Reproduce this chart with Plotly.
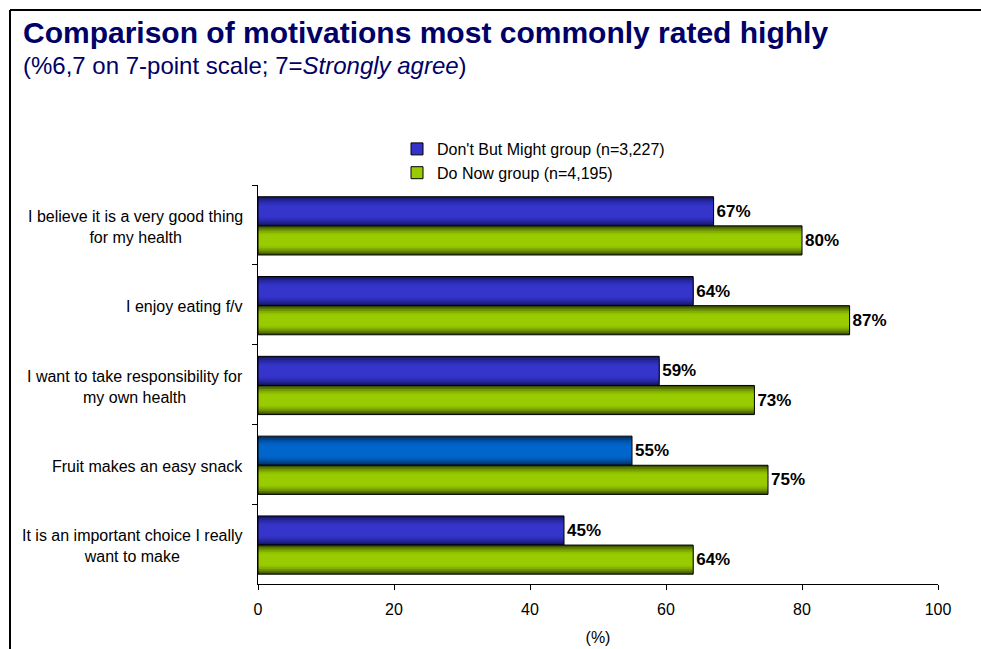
import plotly.graph_objects as go

# ---- data -------------------------------------------------------------
categories = [
    "I believe it is a very good thing<br>for my health",
    "I enjoy eating f/v",
    "I want to take responsibility for<br>my own health",
    "Fruit makes an easy snack",
    "It is an important choice I really<br>want to make",
]
dont_but_might = [67, 64, 59, 55, 45]
do_now = [80, 87, 73, 75, 64]
series_names = ["Don't But Might group (n=3,227)", "Do Now group (n=4,195)"]
x_ticks = [0, 20, 40, 60, 80, 100]

# ---- styling ----------------------------------------------------------
FONT = "Liberation Sans, Arial, sans-serif"
NAVY = "#000066"
# (edge colour, centre colour) for each bar of each series
blue_style = [("#16166a", "#3535cc")] * 5
blue_style[3] = ("#00306a", "#0066cc")
green_style = [("#3c5200", "#99cc00")] * 5
legend_colors = ["#3333cc", "#99cc00"]

BAR_W = 0.365           # bar thickness in category units
SHIFT = 0.012           # the pair sits slightly below the category centre
LAYERS = [(1.00, 0.00), (0.88, 0.30), (0.76, 0.55), (0.64, 0.75),
          (0.52, 0.90), (0.40, 1.00)]   # (thickness fraction, shade)

# plot-area pixel box
W, H = 981, 649
L, R, T, B = 258, 938, 185, 584


def px_x(p):
    return (p - L) / (R - L)


def px_y(p):
    return (B - p) / (B - T)


def mix(c1, c2, t):
    a = [int(c1[i:i + 2], 16) for i in (1, 3, 5)]
    b = [int(c2[i:i + 2], 16) for i in (1, 3, 5)]
    return "#" + "".join(f"{round(x + (y - x) * t):02x}" for x, y in zip(a, b))


fig = go.Figure()


def add_series(values, styles, offset):
    centre = offset + BAR_W / 2
    # shaded layers give each bar a cylinder-like gradient
    for frac, t in LAYERS:
        w = BAR_W * frac
        fig.add_trace(go.Bar(
            x=values, y=categories, orientation="h",
            width=w, offset=centre - w / 2,
            marker=dict(color=[mix(e, m, t) for e, m in styles],
                        line=dict(width=0)),
            showlegend=False, hoverinfo="skip",
        ))
    # outline + value label
    fig.add_trace(go.Bar(
        x=values, y=categories, orientation="h",
        width=BAR_W, offset=offset,
        marker=dict(color="rgba(0,0,0,0)", line=dict(color="#000000", width=1)),
        text=[f"{v}%" for v in values], textposition="outside",
        constraintext="none", cliponaxis=False,
        textfont=dict(family=FONT, size=17, color="#000000", weight="bold"),
        showlegend=False, hoverinfo="skip",
    ))


add_series(dont_but_might, blue_style, -BAR_W + SHIFT)
add_series(do_now, green_style, SHIFT)

# legend entries
for name, col in zip(series_names, legend_colors):
    fig.add_trace(go.Bar(
        x=[None], y=[None], orientation="h", name=name,
        marker=dict(color=col, line=dict(color="#000000", width=1)),
    ))

annotations = []
# category labels, centred line by line
for c in categories:
    annotations.append(dict(
        x=0, xref="paper", y=c, yref="y", xanchor="right", yanchor="middle",
        xshift=-13, yshift=-2, align="center", showarrow=False, text=c,
        font=dict(family=FONT, size=16, color="#000000"),
    ))
annotations.append(dict(
    x=px_x(21), y=px_y(32), xref="paper", yref="paper",
    xanchor="left", yanchor="middle", showarrow=False,
    text="<b>Comparison of motivations most commonly rated highly</b>",
    font=dict(family=FONT, size=30, color=NAVY),
))
annotations.append(dict(
    x=px_x(21), y=px_y(66), xref="paper", yref="paper",
    xanchor="left", yanchor="middle", showarrow=False,
    text="(%6,7 on 7-point scale; 7=<i>Strongly agree</i>)",
    font=dict(family=FONT, size=24, color=NAVY),
))

shapes = [
    dict(type="line", xref="paper", yref="paper",
         x0=px_x(10), x1=px_x(W + 5), y0=px_y(10), y1=px_y(10),
         line=dict(color="#000000", width=2)),
    dict(type="line", xref="paper", yref="paper",
         x0=px_x(10), x1=px_x(10), y0=px_y(10), y1=px_y(H + 5),
         line=dict(color="#000000", width=2)),
]

fig.update_layout(
    width=W, height=H,
    margin=dict(l=L, r=W - R, t=T, b=H - B, pad=0, autoexpand=False),
    paper_bgcolor="white", plot_bgcolor="white",
    barmode="overlay",
    font=dict(family=FONT, size=16, color="#000000"),
    showlegend=True,
    legend=dict(x=px_x(397), y=px_y(132), xanchor="left", yanchor="top",
                font=dict(family=FONT, size=16), bgcolor="rgba(0,0,0,0)",
                traceorder="normal", itemwidth=30),
    annotations=annotations,
    shapes=shapes,
)
fig.update_xaxes(
    automargin=False,
    range=[0, 100], tickvals=x_ticks, ticks="outside", ticklen=5,
    tickcolor="#000000", showline=True, linecolor="#000000", linewidth=1,
    showgrid=False, zeroline=False, ticklabelstandoff=6,
    tickfont=dict(family=FONT, size=16),
    title=dict(text="(%)", font=dict(family=FONT, size=16), standoff=14),
)
fig.update_yaxes(
    automargin=False,
    type="category", categoryorder="array", categoryarray=categories,
    autorange="reversed", showticklabels=False, ticks="outside",
    tickson="boundaries", ticklen=5, tickcolor="#000000",
    showline=True, linecolor="#000000", linewidth=1, showgrid=False,
)

fig.write_html("out.html")
